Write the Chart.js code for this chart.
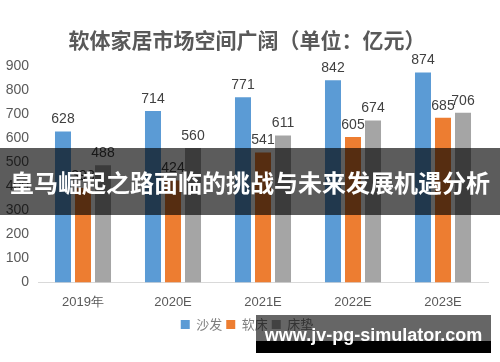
<!DOCTYPE html>
<html>
<head>
<meta charset="utf-8">
<script src="https://cdn.jsdelivr.net/npm/chart.js@4/dist/chart.umd.min.js"></script>
<style>
  html, body { margin: 0; padding: 0; background: #fff; }
  #wrap { position: relative; width: 500px; height: 362px; overflow: hidden; }
  #banner {
    position: absolute; left: 0; top: 148px; width: 500px; height: 67px;
    background: rgba(0, 0, 0, 0.64); color: #fff;
    font: bold 24px "Noto Sans CJK SC", sans-serif; line-height: 67px;
    text-align: center; white-space: nowrap;
  }
  #mark {
    position: absolute; left: 256px; top: 315px; width: 235px; height: 38px;
    background: linear-gradient(to bottom, rgba(0,0,0,0.6) 0, rgba(0,0,0,0.6) 26px, #000 26px);
    color: #fff; font: bold 18px "Liberation Sans", sans-serif;
    line-height: 40px; text-align: center; white-space: nowrap;
  }
</style>
</head>
<body>
<div id="wrap">
  <canvas id="chart" width="500" height="362"></canvas>
  <div id="banner">皇马崛起之路面临的挑战与未来发展机遇分析</div>
  <div id="mark">www.jv-pg-simulator.com</div>
</div>
<script>
// Data
const years = ['2019年', '2020E', '2021E', '2022E', '2023E'];
const sofa = [628, 714, 771, 842, 874];
const softBed = [393, 424, 541, 605, 685];
const mattress = [488, 560, 611, 674, 706];
const yTicks = [0, 100, 200, 300, 400, 500, 600, 700, 800, 900];

// draw the value above each bar
const valueLabels = {
    id: 'valueLabels',
    afterDatasetsDraw(chart) {
        const ctx = chart.ctx;
        ctx.save();
        ctx.font = '14px "Liberation Sans", sans-serif';
        ctx.fillStyle = '#404040';
        ctx.textAlign = 'center';
        ctx.textBaseline = 'middle';
        chart.data.datasets.forEach((ds, i) => {
            chart.getDatasetMeta(i).data.forEach((bar, j) => {
                ctx.fillText(ds.data[j], bar.x, bar.y - 12);
            });
        });
        ctx.restore();
    }
};

new Chart(document.getElementById('chart'), {
    type: 'bar',
    data: {
        labels: years,
        datasets: [
            { label: '沙发', data: sofa, backgroundColor: '#5b9bd5' },
            { label: '软床', data: softBed, backgroundColor: '#ed7d31' },
            { label: '床垫', data: mattress, backgroundColor: '#a5a5a5' }
        ]
    },
    options: {
        responsive: false,
        animation: false,
        categoryPercentage: 0.667,
        barPercentage: 0.8,
        layout: { padding: { left: 6, right: 12, top: 0, bottom: 21 } },
        plugins: {
            title: {
                display: true,
                text: '软体家居市场空间广阔（单位：亿元）',
                color: '#595959',
                font: { family: '"Noto Sans CJK SC"', size: 21, weight: 'bold' },
                padding: { top: 27, bottom: 14 }
            },
            legend: {
                position: 'bottom',
                labels: {
                    boxWidth: 9, boxHeight: 9, padding: 4,
                    color: '#7f7f7f',
                    font: { family: '"Noto Sans CJK SC"', size: 13 }
                }
            },
            tooltip: { enabled: false }
        },
        scales: {
            x: {
                grid: { display: false },
                border: { color: '#d9d9d9' },
                ticks: { color: '#595959', font: { family: '"Liberation Sans"', size: 13 }, padding: 4 }
            },
            y: {
                min: 0, max: 900,
                afterBuildTicks: axis => { axis.ticks = yTicks.map(v => ({ value: v })); },
                afterFit: axis => { axis.width = 32; },
                grid: { display: false },
                border: { display: false },
                ticks: { color: '#595959', font: { family: '"Liberation Sans"', size: 14 }, padding: 1 }
            }
        }
    },
    plugins: [valueLabels]
});
</script>
</body>
</html>
